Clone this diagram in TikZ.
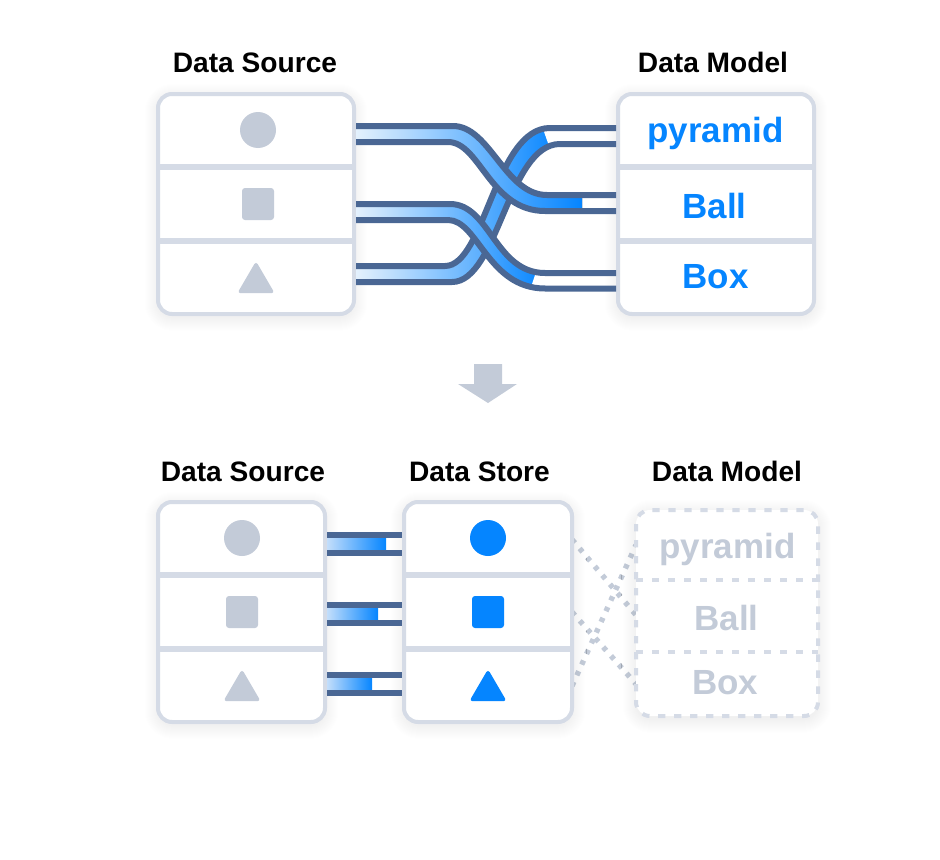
\documentclass[tikz,border=0pt]{standalone}
\usepackage{fontspec}
\setmainfont{Liberation Sans}
\definecolor{myblue}{RGB}{5,133,255}
\definecolor{mylight}{RGB}{228,241,253}
\definecolor{mybarlight}{RGB}{195,222,251}
\definecolor{mysteel}{RGB}{74,103,148}
\definecolor{myline}{RGB}{213,219,230}
\definecolor{mygray}{RGB}{195,203,216}
\usetikzlibrary{shapes.geometric,shadows.blur,positioning}

\begin{document}
\begin{tikzpicture}[
  x=0.75pt,
  y=-0.75pt,
  mypanel/.style={
    draw=myline,
    fill=white,
    line width=3pt,
    rounded corners=10.5pt,
    inner sep=0pt,
    blur shadow={shadow blur steps=15,shadow blur radius=11pt,shadow xshift=0pt,
      shadow yshift=-2.5pt,shadow opacity=11,shadow blur extra rounding=10pt}
    },
  mydivider/.style={draw=myline,line width=4.5pt},
  mydashed/.style={draw=myline,line width=3pt,dash pattern=on 5.5pt off 6.5pt},
  myedge/.style={draw=mysteel,line width=4.5pt},
  myflow/.style={left color=mylight,right color=myblue},
  mybar/.style={left color=mybarlight,right color=myblue},
  mydots/.style={draw=mygray,line width=4pt,dash pattern=on 3.4pt off 5.4pt},
  mycircle/.style={circle,fill=#1,minimum size=27pt,inner sep=0pt},
  mysquare/.style={rectangle,fill=#1,rounded corners=2.25pt,minimum size=24pt,inner sep=0pt},
  mytriangle/.style={
    isosceles triangle,
    isosceles triangle stretches,
    shape border rotate=90,
    fill=#1,
    rounded corners=2.5pt,
    minimum width=28pt,
    minimum height=24pt,
    inner sep=0pt,
    anchor=lower side
    },
  myhead/.style={anchor=base,font=\fontsize{21.1pt}{24pt}\selectfont\bfseries},
  mylabel/.style={anchor=base,text=#1,font=\fontsize{26.2pt}{30pt}\selectfont\bfseries}
]
\useasboundingbox (0,0) rectangle (940,860);

% dotted links behind the lower panels
\coordinate (storeone) at (572,539.5);
\coordinate (storetwo) at (572,612);
\coordinate (storethree) at (572,686);
\coordinate (modelone) at (636,545);
\coordinate (modeltwo) at (636,615);
\coordinate (modelthree) at (636,684);
\draw[mydots] (storeone) -- (modeltwo);
\draw[mydots] (storetwo) -- (modelthree);
\draw[mydots] (storethree) -- (modelone);

% panels
\node[mypanel,minimum width=147pt,minimum height=165pt] (sourcetop) at (256,204) {};
\node[mypanel,minimum width=147pt,minimum height=165pt] (modeltop) at (716,204) {};
\node[mypanel,minimum width=125.25pt,minimum height=165pt] (sourcelow) at (241.5,612) {};
\node[mypanel,minimum width=126pt,minimum height=165pt] (storelow) at (488,612) {};
\node[mypanel,draw=none,outer sep=0pt,minimum width=136.5pt,minimum height=154.5pt] (modellow) at (727,613) {};
\draw[mydashed,rounded corners=10.5pt] (modellow.north west) rectangle (modellow.south east);

\foreach \Panel in {sourcetop,modeltop}
  \foreach \Row in {167,241}
    \draw[mydivider] (\Panel.west |- 0,\Row) -- (\Panel.east |- 0,\Row);
\foreach \Panel in {sourcelow,storelow}
  \foreach \Row in {575,649}
    \draw[mydivider] (\Panel.west |- 0,\Row) -- (\Panel.east |- 0,\Row);
\foreach \Row in {580,652}
  \draw[mydashed] (modellow.west |- 0,\Row) -- (modellow.east |- 0,\Row);

% headings
\node[myhead] (headsourcetop) at (255,72) {Data Source};
\node[myhead] (headmodeltop) at (713,72) {Data Model};
\node[myhead] (headsourcelow) at (243,481) {Data Source};
\node[myhead] (headstorelow) at (479.5,481) {Data Store};
\node[myhead] (headmodellow) at (727,481) {Data Model};

% symbols
\node[mycircle=mygray] (sourcetopcircle) at (258,130) {};
\node[mysquare=mygray] (sourcetopsquare) at (258,204) {};
\node[mytriangle=mygray] (sourcetoptriangle) at (256,293.5) {};
\node[mycircle=mygray] (sourcelowcircle) at (242,538) {};
\node[mysquare=mygray] (sourcelowsquare) at (242,612) {};
\node[mytriangle=mygray] (sourcelowtriangle) at (242,701.5) {};
\node[mycircle=myblue] (storecircle) at (488,538) {};
\node[mysquare=myblue] (storesquare) at (488,612) {};
\node[mytriangle=myblue] (storetriangle) at (488,701.5) {};

% labels
\node[mylabel=myblue] (pyramidtop) at (715.5,142) {pyramid};
\node[mylabel=myblue] (balltop) at (714.5,218) {Ball};
\node[mylabel=myblue] (boxtop) at (715.5,288) {Box};
\node[mylabel=mygray] (pyramidlow) at (727.5,558) {pyramid};
\node[mylabel=mygray] (balllow) at (726.5,630) {Ball};
\node[mylabel=mygray] (boxlow) at (725,694) {Box};

% crossing ribbons, lowest first
\fill[myflow] (sourcetop.east |- 0,266) -- (445,266) .. controls (485,266) and (495,128) .. (550,128)
  -- (560,144) .. controls (508,144) and (498,282) .. (452,282) -- (sourcetop.east |- 0,282) -- cycle;
\fill[white] (542,126) -- (566,126) -- (566,146) -- (549,146) -- cycle;
\draw[myedge] (sourcetop.east |- 0,266) -- (445,266) .. controls (485,266) and (495,128) .. (550,128) -- (modeltop.west |- 0,128);
\draw[myedge] (sourcetop.east |- 0,282) -- (452,282) .. controls (498,282) and (508,144) .. (560,144) -- (modeltop.west |- 0,144);

\fill[myflow] (sourcetop.east |- 0,126) -- (453,126) .. controls (490,126) and (505,195) .. (547,195) -- (582,195)
  -- (582,211) -- (545,211) .. controls (490,211) and (480,142) .. (448,142) -- (sourcetop.east |- 0,142) -- cycle;
\draw[myedge] (sourcetop.east |- 0,126) -- (453,126) .. controls (490,126) and (505,195) .. (547,195) -- (modeltop.west |- 0,195);
\draw[myedge] (sourcetop.east |- 0,142) -- (448,142) .. controls (480,142) and (490,211) .. (545,211) -- (modeltop.west |- 0,211);

\fill[myflow] (sourcetop.east |- 0,204) -- (450,204) .. controls (490,204) and (495,273) .. (545,273)
  -- (545,288.5) .. controls (488,288.5) and (478,220) .. (448,220) -- (sourcetop.east |- 0,220) -- cycle;
\fill[white] (536,272) -- (550,272) -- (550,290) -- (530,290) -- cycle;
\draw[myedge] (sourcetop.east |- 0,204) -- (450,204) .. controls (490,204) and (495,273) .. (545,273) -- (modeltop.west |- 0,273);
\draw[myedge] (sourcetop.east |- 0,220) -- (448,220) .. controls (478,220) and (488,288.5) .. (545,288.5) -- (modeltop.west |- 0,288.5);

% arrow between the two rows
\fill[mygray] (474,364) -- (502,364) -- (502,384) -- (517,384) -- (488,403) -- (458,384) -- (474,384) -- cycle;

% short bars
\foreach \Top/\Stop in {535/386,605/378,675/372} {
  \fill[mybar] (sourcelow.east |- 0,\Top) rectangle (\Stop,\Top+18);
  \draw[myedge] (sourcelow.east |- 0,\Top) -- (storelow.west |- 0,\Top);
  \draw[myedge] (sourcelow.east |- 0,\Top+18) -- (storelow.west |- 0,\Top+18);
}
\end{tikzpicture}
\end{document}
